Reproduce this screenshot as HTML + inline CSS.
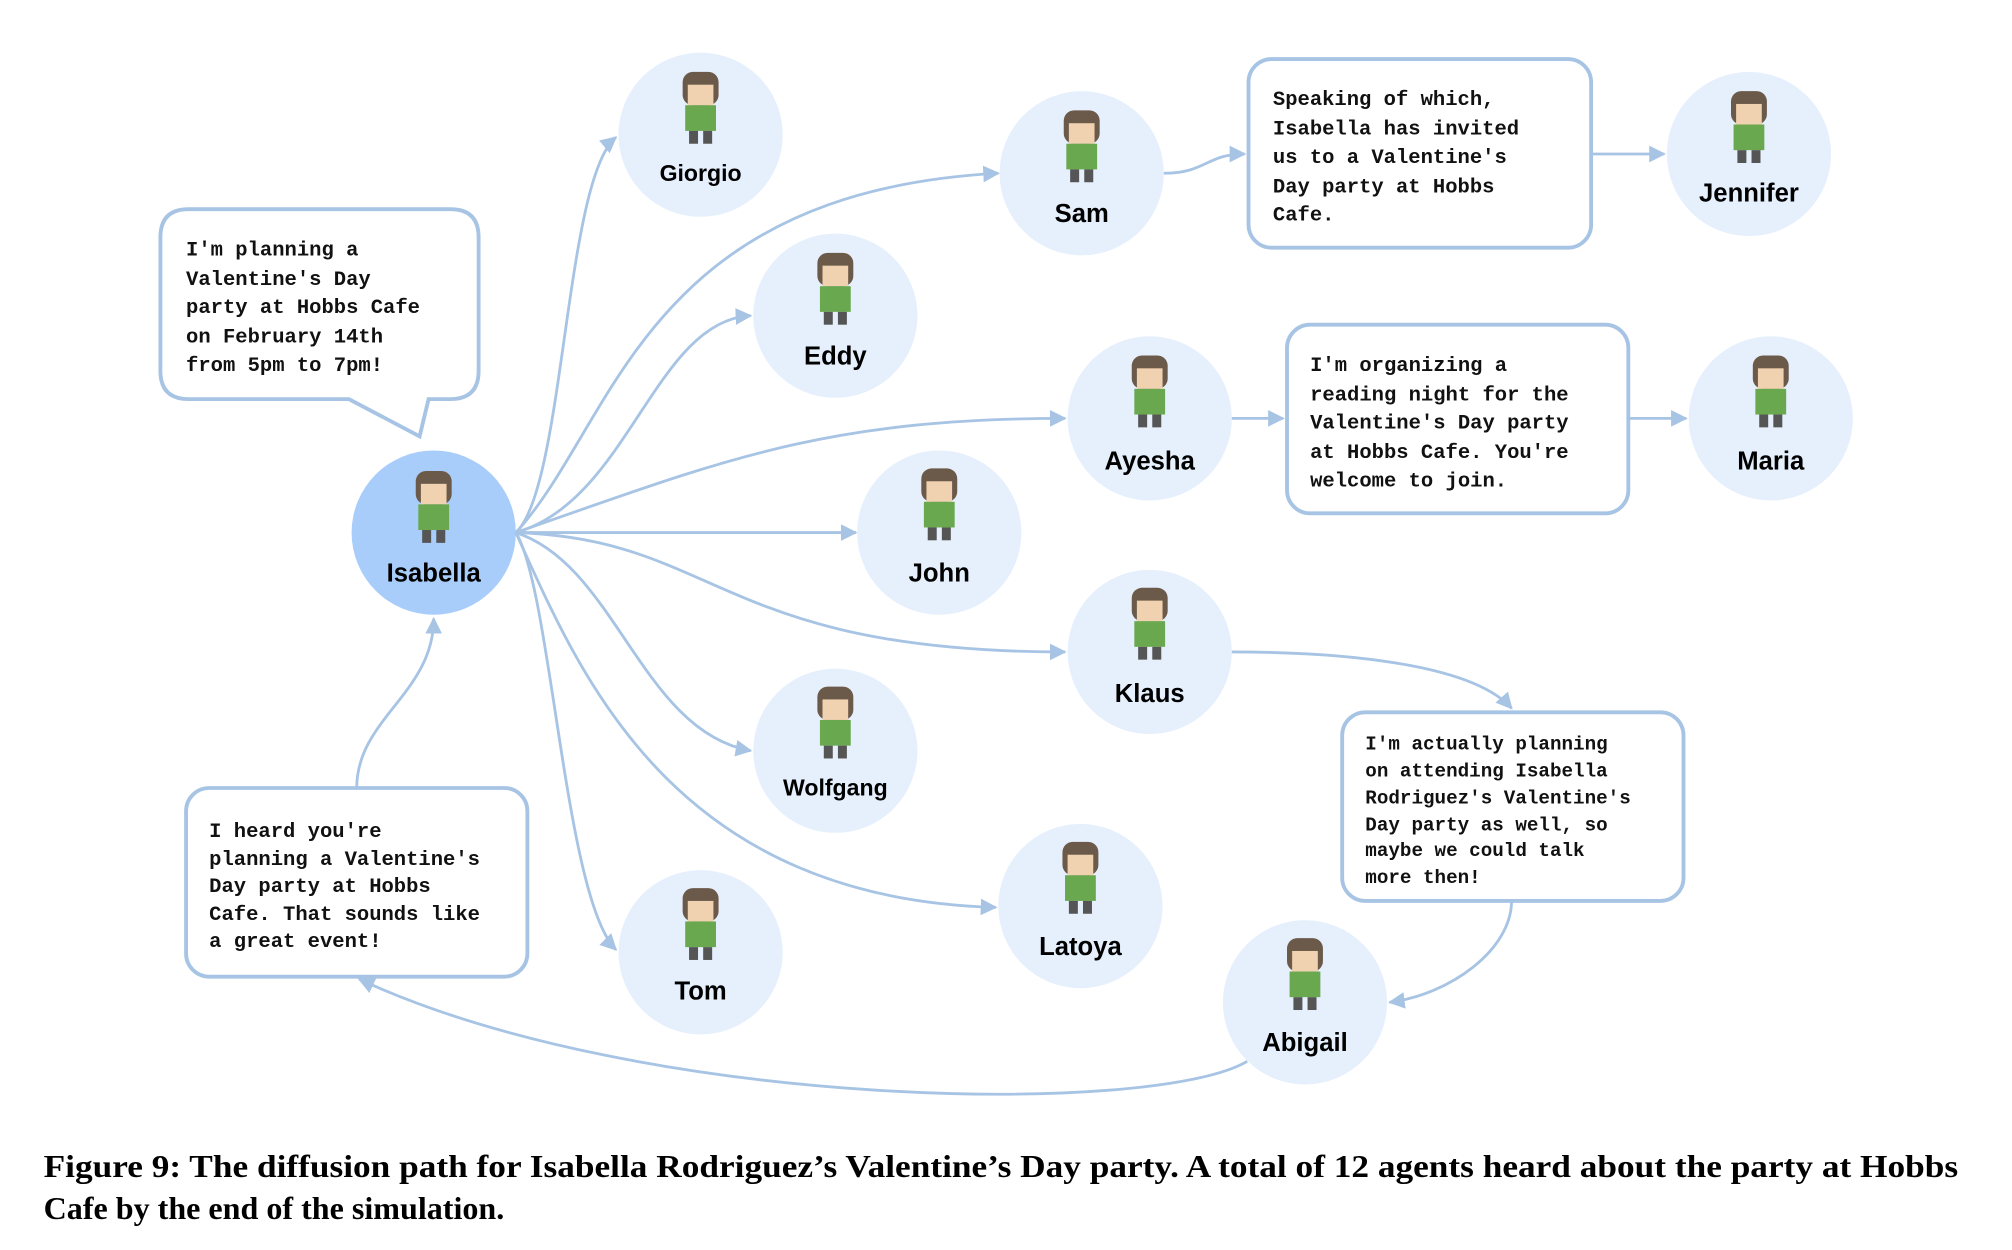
<!DOCTYPE html>
<html><head><meta charset="utf-8"><style>
html,body{margin:0;padding:0;background:#fff;width:2012px;height:1250px;overflow:hidden}
svg{display:block}
.bt{font-family:"Liberation Mono",monospace;font-size:16px;font-weight:bold;fill:#111}
.nm{font-family:"Liberation Sans",sans-serif;font-size:20px;font-weight:bold;fill:#000;text-anchor:middle}
.cap{font-family:"Liberation Serif",serif;font-size:25px;font-weight:bold;fill:#000}
.e{fill:none;stroke:#a7c4e4;stroke-width:2.2}
.b{fill:#fff;stroke:#a7c4e4;stroke-width:3}
.n{fill:#e6f0fd}
</style></head><body>
<svg width="2012" height="1250" viewBox="0 0 1568 974" preserveAspectRatio="none" xmlns="http://www.w3.org/2000/svg">
<defs>
<marker id="m" viewBox="0 0 10 10" refX="9" refY="5" markerWidth="13" markerHeight="13" orient="auto" markerUnits="userSpaceOnUse"><path d="M0,0 L10,5 L0,10 z" fill="#a7c4e4"/></marker>
<g id="sp">
<rect x="-14" y="-40" width="28" height="26" rx="8" fill="#6b5a4a"/>
<rect x="-10" y="-30" width="20" height="16" fill="#f1d2b0"/>
<rect x="-12" y="-14" width="24" height="20" fill="#6aa84f"/>
<rect x="-9" y="6" width="7" height="10" fill="#555"/><rect x="2" y="6" width="7" height="10" fill="#555"/>
</g>
</defs>
<circle cx="338" cy="415" r="64" fill="#a8cdfa"/>
<circle class="n" cx="546" cy="105" r="64"/>
<circle class="n" cx="843" cy="135" r="64"/>
<circle class="n" cx="651" cy="246" r="64"/>
<circle class="n" cx="896" cy="326" r="64"/>
<circle class="n" cx="732" cy="415" r="64"/>
<circle class="n" cx="896" cy="508" r="64"/>
<circle class="n" cx="651" cy="585" r="64"/>
<circle class="n" cx="842" cy="706" r="64"/>
<circle class="n" cx="546" cy="742" r="64"/>
<circle class="n" cx="1017" cy="781" r="64"/>
<circle class="n" cx="1363" cy="120" r="64"/>
<circle class="n" cx="1380" cy="326" r="64"/>
<use href="#sp" x="338" y="407"/>
<use href="#sp" x="546" y="96"/>
<use href="#sp" x="843" y="126"/>
<use href="#sp" x="651" y="237"/>
<use href="#sp" x="896" y="317"/>
<use href="#sp" x="732" y="405"/>
<use href="#sp" x="896" y="498"/>
<use href="#sp" x="651" y="575"/>
<use href="#sp" x="842" y="696"/>
<use href="#sp" x="546" y="732"/>
<use href="#sp" x="1017" y="771"/>
<use href="#sp" x="1363" y="111"/>
<use href="#sp" x="1380" y="317"/>
<text class="nm" x="338" y="453">Isabella</text>
<text class="nm" x="546" y="141" style="font-size:18px">Giorgio</text>
<text class="nm" x="843" y="173">Sam</text>
<text class="nm" x="651" y="284">Eddy</text>
<text class="nm" x="896" y="366">Ayesha</text>
<text class="nm" x="732" y="453">John</text>
<text class="nm" x="896" y="547">Klaus</text>
<text class="nm" x="651" y="620" style="font-size:18px">Wolfgang</text>
<text class="nm" x="842" y="744">Latoya</text>
<text class="nm" x="546" y="779">Tom</text>
<text class="nm" x="1017" y="819">Abigail</text>
<text class="nm" x="1363" y="157">Jennifer</text>
<text class="nm" x="1380" y="366">Maria</text>
<path class="e" marker-end="url(#m)" d="M402,415 C440,380 440,140 480,107"/>
<path class="e" marker-end="url(#m)" d="M402,415 C480,330 500,150 778,135"/>
<path class="e" marker-end="url(#m)" d="M402,415 C490,390 510,250 585,246"/>
<path class="e" marker-end="url(#m)" d="M402,415 C560,360 640,326 830,326"/>
<path class="e" marker-end="url(#m)" d="M402,415 L667,415"/>
<path class="e" marker-end="url(#m)" d="M402,415 C560,420 560,508 830,508"/>
<path class="e" marker-end="url(#m)" d="M402,415 C480,440 500,570 585,585"/>
<path class="e" marker-end="url(#m)" d="M402,415 C450,520 520,700 776,707"/>
<path class="e" marker-end="url(#m)" d="M402,415 C430,460 440,700 480,740"/>
<path class="e" marker-end="url(#m)" d="M907,135 C940,135 940,120 970,120"/>
<path class="e" marker-end="url(#m)" d="M1240,120 L1297,120"/>
<path class="e" marker-end="url(#m)" d="M960,326 L1000,326"/>
<path class="e" marker-end="url(#m)" d="M1269,326 L1314,326"/>
<path class="e" marker-end="url(#m)" d="M960,508 C1060,508 1150,520 1178,552"/>
<path class="e" marker-end="url(#m)" d="M1178,702 C1178,740 1130,775 1083,781"/>
<path class="e" marker-end="url(#m)" d="M972,827 C900,870 500,865 280,763"/>
<path class="e" marker-end="url(#m)" d="M278,614 C278,560 338,540 338,482"/>
<path class="b" d="M147,163 H351 Q373,163 373,185 V289 Q373,311 351,311 H334 L327,340 L272,311 H147 Q125,311 125,289 V185 Q125,163 147,163 Z"/>
<text class="bt" x="145" y="199">I'm planning a</text>
<text class="bt" x="145" y="222">Valentine's Day</text>
<text class="bt" x="145" y="244">party at Hobbs Cafe</text>
<text class="bt" x="145" y="267">on February 14th</text>
<text class="bt" x="145" y="289">from 5pm to 7pm!</text>
<rect class="b" x="973" y="46" width="267" height="147" rx="18"/>
<text class="bt" x="992" y="82">Speaking of which,</text>
<text class="bt" x="992" y="105">Isabella has invited</text>
<text class="bt" x="992" y="127">us to a Valentine's</text>
<text class="bt" x="992" y="150">Day party at Hobbs</text>
<text class="bt" x="992" y="172">Cafe.</text>
<rect class="b" x="1003" y="253" width="266" height="147" rx="18"/>
<text class="bt" x="1021" y="289">I'm organizing a</text>
<text class="bt" x="1021" y="312">reading night for the</text>
<text class="bt" x="1021" y="334">Valentine's Day party</text>
<text class="bt" x="1021" y="357">at Hobbs Cafe. You're</text>
<text class="bt" x="1021" y="379">welcome to join.</text>
<rect class="b" x="1046" y="555" width="266" height="147" rx="18"/>
<text class="bt" x="1064" y="584" style="font-size:15px">I'm actually planning</text>
<text class="bt" x="1064" y="605" style="font-size:15px">on attending Isabella</text>
<text class="bt" x="1064" y="626" style="font-size:15px">Rodriguez's Valentine's</text>
<text class="bt" x="1064" y="647" style="font-size:15px">Day party as well, so</text>
<text class="bt" x="1064" y="667" style="font-size:15px">maybe we could talk</text>
<text class="bt" x="1064" y="688" style="font-size:15px">more then!</text>
<rect class="b" x="145" y="614" width="266" height="147" rx="18"/>
<text class="bt" x="163" y="652">I heard you're</text>
<text class="bt" x="163" y="674">planning a Valentine's</text>
<text class="bt" x="163" y="695">Day party at Hobbs</text>
<text class="bt" x="163" y="717">Cafe. That sounds like</text>
<text class="bt" x="163" y="738">a great event!</text>
<text class="cap" x="34" y="917" textLength="1492" lengthAdjust="spacingAndGlyphs">Figure 9: The diffusion path for Isabella Rodriguez’s Valentine’s Day party. A total of 12 agents heard about the party at Hobbs</text>
<text class="cap" x="34" y="950">Cafe by the end of the simulation.</text>
</svg>
</body></html>
